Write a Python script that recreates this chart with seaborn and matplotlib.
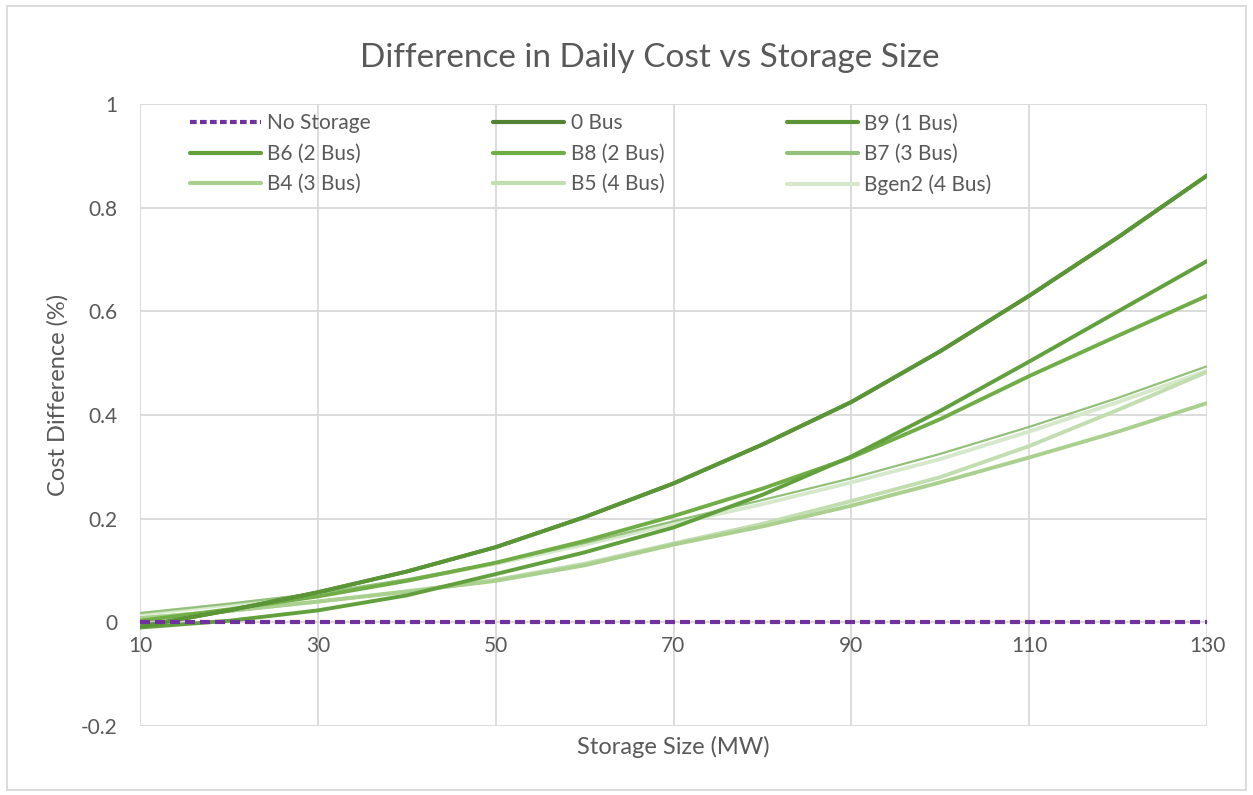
import numpy as np
import pandas as pd
import matplotlib
matplotlib.use("Agg")
import matplotlib.pyplot as plt
import matplotlib.patches as patches
from matplotlib.lines import Line2D
import seaborn as sns

# storage size (MW)
storage_mw = [10, 20, 30, 40, 50, 60, 70, 80, 90, 100, 110, 120, 130]

# cost difference (%)
no_storage = [0, 0, 0, 0, 0, 0, 0, 0, 0, 0, 0, 0, 0]
bus_0 = [-0.008, 0.023, 0.058, 0.098, 0.145, 0.203, 0.268, 0.343, 0.425, 0.523, 0.630, 0.743, 0.862]
b9 = [-0.008, 0.023, 0.058, 0.098, 0.145, 0.203, 0.268, 0.343, 0.425, 0.523, 0.630, 0.743, 0.862]
b6 = [-0.010, 0.003, 0.023, 0.052, 0.093, 0.135, 0.183, 0.246, 0.320, 0.408, 0.503, 0.600, 0.697]
b8 = [0.003, 0.025, 0.050, 0.080, 0.115, 0.157, 0.205, 0.258, 0.318, 0.392, 0.475, 0.553, 0.630]
b7 = [0.018, 0.036, 0.056, 0.083, 0.115, 0.153, 0.195, 0.236, 0.278, 0.325, 0.377, 0.433, 0.494]
b4 = [0.008, 0.022, 0.040, 0.059, 0.080, 0.110, 0.150, 0.185, 0.225, 0.270, 0.318, 0.368, 0.423]
b5 = [0.008, 0.022, 0.040, 0.060, 0.082, 0.113, 0.152, 0.190, 0.234, 0.280, 0.340, 0.410, 0.483]
bgen2 = [0.016, 0.034, 0.054, 0.081, 0.113, 0.150, 0.190, 0.228, 0.270, 0.315, 0.368, 0.425, 0.485]

series = {
    "No Storage": no_storage,
    "0 Bus": bus_0,
    "B9 (1 Bus)": b9,
    "B6 (2 Bus)": b6,
    "B8 (2 Bus)": b8,
    "B7 (3 Bus)": b7,
    "B4 (3 Bus)": b4,
    "B5 (4 Bus)": b5,
    "Bgen2 (4 Bus)": bgen2,
}
colors = {
    "No Storage": "#7030a0",
    "0 Bus": "#548235",
    "B9 (1 Bus)": "#5a9636",
    "B6 (2 Bus)": "#62a03d",
    "B8 (2 Bus)": "#70ad47",
    "B7 (3 Bus)": "#93c17b",
    "B4 (3 Bus)": "#a9d08e",
    "B5 (4 Bus)": "#c2ddb0",
    "Bgen2 (4 Bus)": "#d5e8ca",
}
widths = {k: 2.8 for k in series}
widths["B7 (3 Bus)"] = 1.6
widths["No Storage"] = 3.0

sns.set_theme(style="whitegrid")
plt.rcParams["font.family"] = ["Lato", "DejaVu Sans"]
text_col = "#595959"
grid_col = "#d9d9d9"

fig = plt.figure(figsize=(12.53, 7.95), dpi=100)
ax = fig.add_axes([140 / 1253, 1 - 726 / 795, 1067 / 1253, 622 / 795])

# draw light series first, dark ones on top
order = ["Bgen2 (4 Bus)", "B5 (4 Bus)", "B4 (3 Bus)", "B7 (3 Bus)", "B8 (2 Bus)",
         "B6 (2 Bus)", "0 Bus", "B9 (1 Bus)", "No Storage"]
for name in order:
    df = pd.DataFrame({"x": storage_mw, "y": series[name]})
    sns.lineplot(data=df, x="x", y="y", ax=ax, color=colors[name],
                 linewidth=widths[name], legend=False)
    ln = ax.get_lines()[-1]
    ln.set_zorder(3)
    ln.set_solid_capstyle("round")
    if name == "No Storage":
        ln.set_dashes((2.4, 1.2))
        ln.set_dash_capstyle("butt")
        ln.set_zorder(4)

ax.set_xlim(10, 130)
ax.set_ylim(-0.2, 1.0)
ax.set_xticks(np.arange(10, 131, 20))
ax.set_yticks(np.arange(-0.2, 1.01, 0.2))
ax.set_yticklabels(["-0.2", "0", "0.2", "0.4", "0.6", "0.8", "1"])
ax.grid(True, color=grid_col, linewidth=1.3)
ax.set_axisbelow(True)
ax.set_facecolor("white")
for s in ["top", "right", "left"]:
    ax.spines[s].set_visible(False)
ax.spines["bottom"].set_position(("data", 0))
ax.spines["bottom"].set_color(grid_col)
ax.spines["bottom"].set_zorder(1)
ax.tick_params(axis="both", length=0, labelsize=15, colors=text_col)
ax.tick_params(axis="x", pad=10)
ax.tick_params(axis="y", pad=16)

ax.set_xlabel("")
ax.set_ylabel("")
fig.text(58 / 1253, 1 - 395 / 795, "Cost Difference (%)", rotation=90, ha="center",
         va="center", fontsize=17, color=text_col)
fig.text((140 + 1207) / 2 / 1253, 1 - 747 / 795, "Storage Size (MW)", ha="center",
         va="center", fontsize=17, color=text_col)
fig.text(650 / 1253, 1 - 58 / 795, "Difference in Daily Cost vs Storage Size",
         ha="center", va="center", fontsize=24, color=text_col)

# legend in row order of the original, matplotlib fills by columns
leg_order = ["No Storage", "B6 (2 Bus)", "B4 (3 Bus)",
             "0 Bus", "B8 (2 Bus)", "B5 (4 Bus)",
             "B9 (1 Bus)", "B7 (3 Bus)", "Bgen2 (4 Bus)"]
handles = []
for n in leg_order:
    if n == "No Storage":
        handles.append(Line2D([], [], color=colors[n], linewidth=3.0,
                              dashes=(1.6, 0.8), dash_capstyle="butt"))
    else:
        handles.append(Line2D([], [], color=colors[n], linewidth=3.0,
                              solid_capstyle="round"))
leg = ax.legend(handles, leg_order, ncol=3, frameon=False,
                loc="upper left", bbox_to_anchor=(0.035, 1.005), fontsize=15,
                handlelength=3.4, handletextpad=0.3, columnspacing=5.9,
                labelspacing=0.5, borderaxespad=0.2)
for t in leg.get_texts():
    t.set_color(text_col)

fig.patches.append(patches.Rectangle((7 / 1253, 5 / 795), 1239 / 1253, 784 / 795,
                                     transform=fig.transFigure, fill=False,
                                     edgecolor=grid_col, linewidth=1.3))

fig.savefig("out.png", dpi=100)
